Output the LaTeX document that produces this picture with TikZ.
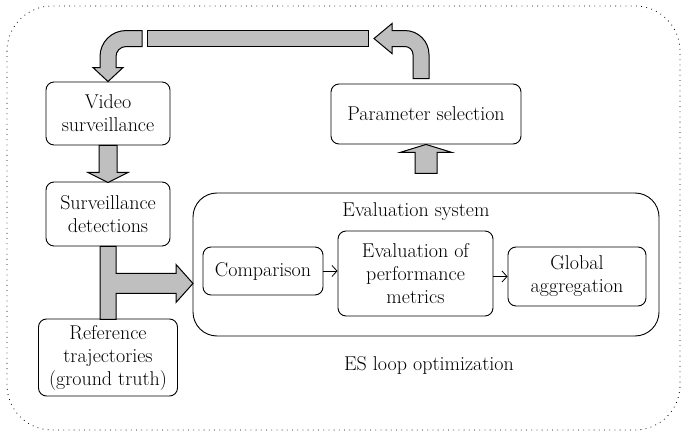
\documentclass[tikz,border=0pt]{standalone}
\usetikzlibrary{arrows.meta}

\begin{document}
\begin{tikzpicture}[x=1pt,y=-1pt,
    font=\fontsize{20}{23}\selectfont,
    box/.style={draw, line width=0.9pt, rounded corners=8pt, align=center, inner sep=0pt},
    fatarrow/.style={draw, line width=1pt, fill=gray!50, line join=miter},
    thin arrow/.style={line width=0.8pt, -{Straight Barb[length=5pt,width=11pt]}}]
    \useasboundingbox (0,0) rectangle (683,433);
    \draw[line width=0.8pt, dash pattern=on 0.8pt off 4.4pt, rounded corners=45pt] (7,6) rectangle (680,430);

    % boxes
    \node[box, minimum width=124pt, minimum height=63pt] (vid) at (108,113.5) {Video\\surveillance};
    \node[box, minimum width=124pt, minimum height=64pt] (surv) at (108,214) {Surveillance\\detections};
    \node[box, minimum width=139pt, minimum height=77pt] (ref) at (108,357.5) {Reference\\trajectories\\(ground truth)};
    \node[box, minimum width=190pt, minimum height=60pt] (param) at (426,114) {Parameter selection};

    \node[box, rounded corners=24pt, minimum width=466pt, minimum height=143pt] (es) at (426,264.5) {};
    \node (estitle) at (416,212) {Evaluation system};
    \node[box, minimum width=120pt, minimum height=48pt] (cmp) at (263,271) {Comparison};
    \node[box, minimum width=155pt, minimum height=85pt] (evm) at (415.5,273.5) {Evaluation of\\performance\\metrics};
    \node[box, minimum width=138pt, minimum height=59pt] (glb) at (577,276.5) {Global\\aggregation};
    \node (loop) at (429,365) {ES loop optimization};

    \draw[thin arrow] (cmp.east) -- (cmp.east -| evm.west);
    \draw[thin arrow] (evm.east |- glb.west) -- (glb.west);

    % video -> detections
    \filldraw[fatarrow] ([xshift=-9pt]vid.south) -- ++(18,0) -- ++(0,27) -- ++(11,0) -- ++(-20,10) -- ++(-20,-10) -- ++(11,0) -- cycle;
    % detections + reference -> evaluation
    \filldraw[fatarrow] ([xshift=-8pt]surv.south) -- ++(16,0) -- ++(0,27) -- ++(60,0) -- ++(0,-9) -- ++(17,19) -- ++(-17,19) -- ++(0,-9) -- ++(-60,0) -- ++(0,26) -- ++(-16,0) -- cycle;
    % evaluation -> parameters
    \filldraw[fatarrow] (param.south) -- ++(26,8) -- ++(-15,0) -- ++(0,21) -- ++(-22,0) -- ++(0,-21) -- ++(-15,0) -- cycle;

    % loop back to video
    \filldraw[fatarrow] ([xshift=-13pt,yshift=5pt]param.north) -- ++(16,0) -- ++(0,-24)
        .. controls +(0,-13.25) and +(13.25,0) .. ++(-24,-24) -- ++(-13,0) -- ++(0,-7) -- ++(-18,15)
        -- ++(18,15) -- ++(0,-7) -- ++(13,0) .. controls +(4.4,0) and +(0,-4.4) .. ++(8,8) -- cycle;
    \filldraw[fatarrow] ([xshift=39pt,yshift=51pt]vid.north) rectangle ([xshift=-58pt,yshift=37pt]param.north);
    \filldraw[fatarrow] (vid.north) -- ++(15,-14) -- ++(-7,0) -- ++(0,-11)
        .. controls +(0,-5.5) and +(-5.5,0) .. ++(10,-10) -- ++(16,0) -- ++(0,-16) -- ++(-16,0)
        .. controls +(-14.4,0) and +(0,-14.4) .. ++(-26,26) -- ++(0,11) -- ++(-7,0) -- cycle;
\end{tikzpicture}
\end{document}
